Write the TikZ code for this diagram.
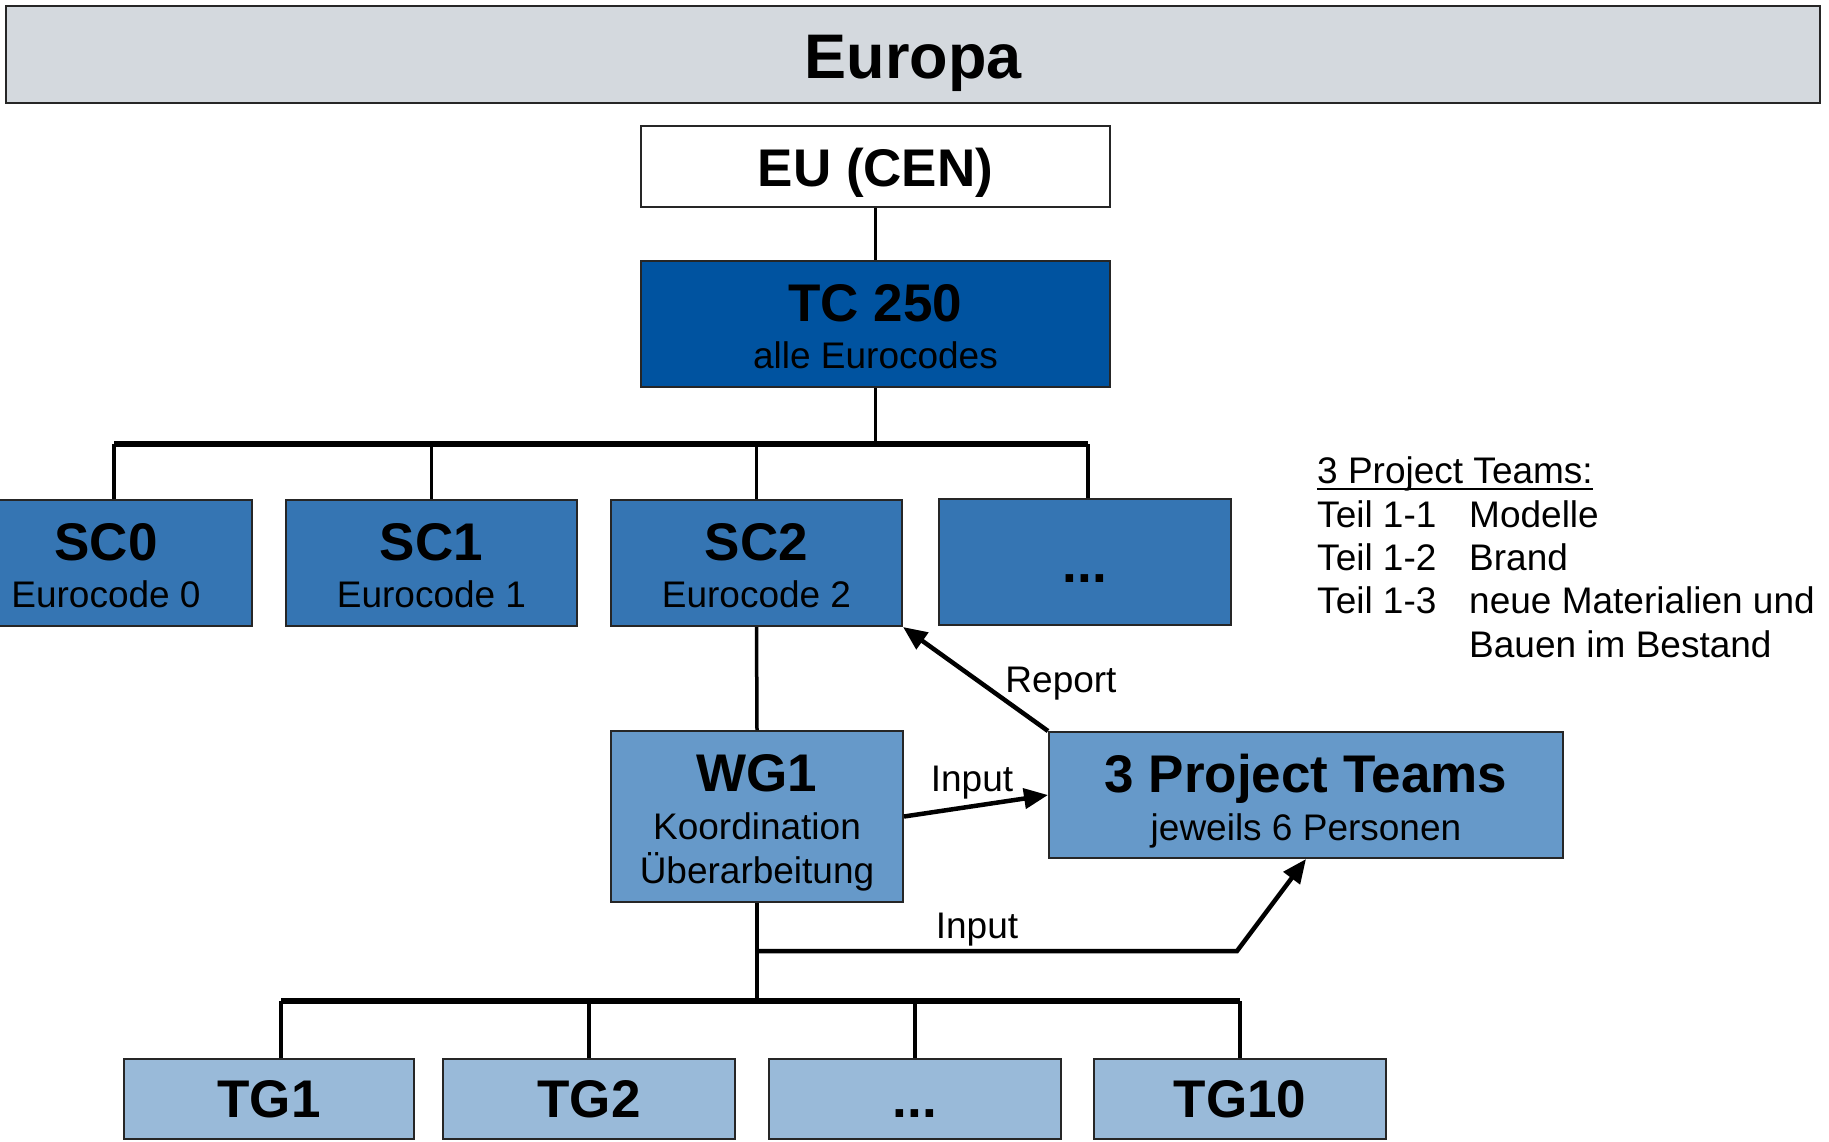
\documentclass[tikz,border=0pt]{standalone}
\usepackage{fontspec}
\setmainfont{Liberation Sans}
\usetikzlibrary{arrows.meta}
\definecolor{europagrey}{HTML}{D4D9DE}
\definecolor{tcblue}{HTML}{0053A0}
\definecolor{scblue}{HTML}{3575B3}
\definecolor{wgblue}{HTML}{6699C9}
\definecolor{tgblue}{HTML}{99BAD9}
\definecolor{edgegrey}{HTML}{262626}
\begin{document}
\begin{tikzpicture}[x=1pt,y=-1pt,
  box/.style={draw=edgegrey, line width=2pt, rectangle, inner sep=0pt},
  bigtxt/.style={font=\fontsize{53}{60}\selectfont\bfseries, anchor=base, inner sep=0pt},
  smalltxt/.style={font=\fontsize{37}{43}\selectfont, anchor=base, inner sep=0pt},
  sidetxt/.style={font=\fontsize{37}{43}\selectfont, anchor=base west, inner sep=0pt},
  conn/.style={line width=3.5pt},
  barline/.style={line width=5.5pt},
  arr/.style={line width=4.5pt, -{Triangle[length=24pt,width=20pt]}},
]
\useasboundingbox (0,0) rectangle (1829,1141);
\fill[white] (0,0) rectangle (1829,1141);

% Europa band
\node[box, fill=europagrey, minimum width=1814pt, minimum height=97pt] (europa) at (913,54.5) {};
\node[font=\fontsize{63}{70}\selectfont\bfseries, anchor=base, inner sep=0pt] (europaT) at (913,78) {Europa};

% EU and TC
\node[box, fill=white, minimum width=469pt, minimum height=81pt] (eu) at (875.5,166.5) {};
\node[bigtxt] (euT) at (875.5,186) {EU (CEN)};
\node[box, fill=tcblue, minimum width=469pt, minimum height=126pt] (tc) at (875.5,324) {};
\node[bigtxt] (tcT) at (875.5,321) {TC 250};
\node[smalltxt] (tcS) at (875.5,368) {alle Eurocodes};

% SC boxes
\node[box, fill=scblue, minimum width=292pt, minimum height=126pt] (sc0) at (106,563) {};
\node[bigtxt] (sc0T) at (106,560) {SC0};
\node[smalltxt] (sc0S) at (106,607) {Eurocode 0};
\node[box, fill=scblue, minimum width=291pt, minimum height=126pt] (sc1) at (431.5,563) {};
\node[bigtxt] (sc1T) at (431.5,560) {SC1};
\node[smalltxt] (sc1S) at (431.5,607) {Eurocode 1};
\node[box, fill=scblue, minimum width=291pt, minimum height=126pt] (sc2) at (756.5,563) {};
\node[bigtxt] (sc2T) at (756.5,560) {SC2};
\node[smalltxt] (sc2S) at (756.5,607) {Eurocode 2};
\node[box, fill=scblue, minimum width=292pt, minimum height=126pt] (scd) at (1085,562) {};
\node[bigtxt] (scdT) at (1085,582) {...};

% WG1 and Project Teams
\node[box, fill=wgblue, minimum width=292pt, minimum height=171pt] (wg1) at (757,816.5) {};
\node[bigtxt] (wg1T) at (757,791) {WG1};
\node[smalltxt] (wg1S) at (757,839) {Koordination};
\node[smalltxt] (wg1U) at (757,883) {Überarbeitung};
\node[box, fill=wgblue, minimum width=514pt, minimum height=126pt] (pt) at (1306,795) {};
\node[bigtxt] (ptT) at (1306,792) {3 Project Teams};
\node[smalltxt] (ptS) at (1306,840) {jeweils 6 Personen};

% TG boxes
\node[box, fill=tgblue, minimum width=290pt, minimum height=80pt] (tg1) at (269,1099) {};
\node[bigtxt] (tg1T) at (269,1117) {TG1};
\node[box, fill=tgblue, minimum width=292pt, minimum height=80pt] (tg2) at (589,1099) {};
\node[bigtxt] (tg2T) at (589,1117) {TG2};
\node[box, fill=tgblue, minimum width=292pt, minimum height=80pt] (tgd) at (915,1099) {};
\node[bigtxt] (tgdT) at (915,1117) {...};
\node[box, fill=tgblue, minimum width=292pt, minimum height=80pt] (tg10) at (1240,1099) {};
\node[bigtxt] (tg10T) at (1240,1117) {TG10};

% side text
\node[sidetxt] (sideH) at (1317,483) {3 Project Teams:};
\draw[line width=2pt] ([yshift=-6pt]sideH.base west) -- ([yshift=-6pt]sideH.base east);
\node[sidetxt] (side1a) at (1317,527) {Teil 1-1};
\node[sidetxt] (side1b) at (1469,527) {Modelle};
\node[sidetxt] (side2a) at (1317,570) {Teil 1-2};
\node[sidetxt] (side2b) at (1469,570) {Brand};
\node[sidetxt] (side3a) at (1317,613) {Teil 1-3};
\node[sidetxt] (side3b) at (1469,613) {neue Materialien und};
\node[sidetxt] (side4b) at (1469,657) {Bauen im Bestand};

% connectors top
\coordinate (topL) at (114,444);
\coordinate (topR) at (1088,444);
\draw[conn] (eu.south) -- (tc.north);
\draw[conn] (tc.south) -- (tc.south |- topL);
\draw[barline] (topL) -- (topR);
\draw[conn] (topL) -- (topL |- sc0.north);
\draw[conn] (sc1.north |- topL) -- (sc1.north);
\draw[conn] (sc2.north |- topL) -- (sc2.north);
\draw[conn] (topR) -- (topR |- scd.north);

% SC2 to WG1
\draw[conn] (sc2.south) -- (wg1.north);

% bottom tree
\coordinate (botL) at (281,1001);
\coordinate (botR) at (1240,1001);
\draw[conn] (wg1.south) -- (wg1.south |- botL);
\draw[barline] (botL) -- (botR);
\draw[conn] (botL) -- (botL |- tg1.north);
\draw[conn] (tg2.north |- botL) -- (tg2.north);
\draw[conn] (tgd.north |- botL) -- (tgd.north);
\draw[conn] (botR) -- (botR |- tg10.north);

% arrows
\draw[arr] (pt.north west) -- (sc2.south east);
\node[smalltxt] (reportL) at (1061,692) {Report};
\draw[arr] (wg1.east) -- (pt.west);
\node[smalltxt] (input1L) at (972,791) {Input};
\coordinate (ibend) at (1237,951);
\draw[arr] (wg1.south |- ibend) -- (ibend) -- (pt.south);
\node[smalltxt] (input2L) at (977,938) {Input};
\end{tikzpicture}
\end{document}
